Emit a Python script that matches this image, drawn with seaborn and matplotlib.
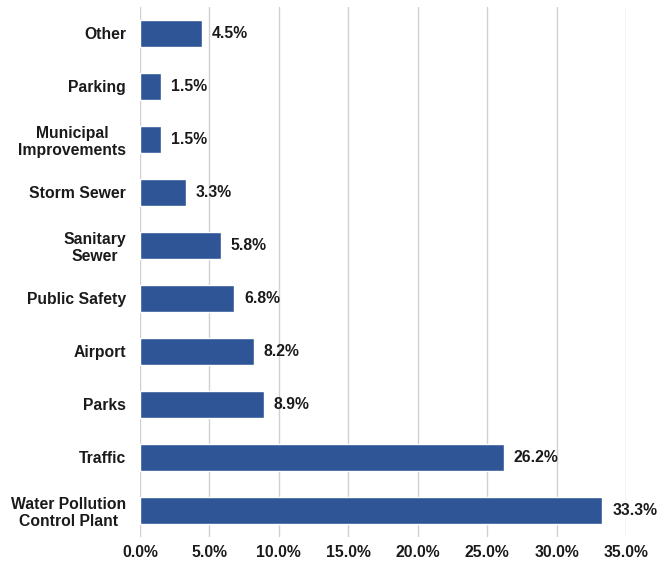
import pandas as pd
import matplotlib
matplotlib.use("Agg")
import matplotlib.pyplot as plt
import seaborn as sns
from matplotlib.ticker import FuncFormatter

categories = ["Other", "Parking", "Municipal\nImprovements", "Storm Sewer",
              "Sanitary\nSewer", "Public Safety", "Airport", "Parks", "Traffic",
              "Water Pollution\nControl Plant"]
shares = [4.5, 1.5, 1.5, 3.3, 5.8, 6.8, 8.2, 8.9, 26.2, 33.3]

sns.set_style("white")
plt.rcParams['font.family'] = ['Liberation Sans', 'DejaVu Sans']
plt.rcParams['font.weight'] = 'bold'

df = pd.DataFrame({"category": categories, "share": shares})

fig = plt.figure(figsize=(6.58, 5.65), dpi=100)
ax = fig.add_axes([140 / 658, 1 - 537 / 565, (626 - 140) / 658, 530 / 565])

sns.barplot(data=df, x="share", y="category", color="#2F5597", width=0.52,
            saturation=1, ax=ax, orient="h")

# value labels just past the bar ends
for i, v in enumerate(shares):
    ax.annotate(f"{v:.1f}%", (v, i), xytext=(7, 0), textcoords="offset points",
                va="center", ha="left", fontsize=11.3, fontweight="bold", color="#1a1a1a")

ax.set_xlim(0, 35)
ax.set_ylim(9.5, -0.5)
ax.set_xticks(range(0, 36, 5))
ax.xaxis.set_major_formatter(FuncFormatter(lambda x, p: f"{x:.1f}%"))
ax.xaxis.grid(True, color="#d0d0d0", linewidth=1)
ax.set_axisbelow(True)
ax.set_xlabel("")
ax.set_ylabel("")
for s in ax.spines.values():
    s.set_visible(False)
ax.tick_params(axis="both", length=0, labelsize=11.3, colors="#1a1a1a")
ax.tick_params(axis="x", pad=6)
ax.tick_params(axis="y", pad=10)
for lbl in ax.get_xticklabels() + ax.get_yticklabels():
    lbl.set_fontweight("bold")
    lbl.set_multialignment("center")

fig.savefig("out.png", dpi=100)
